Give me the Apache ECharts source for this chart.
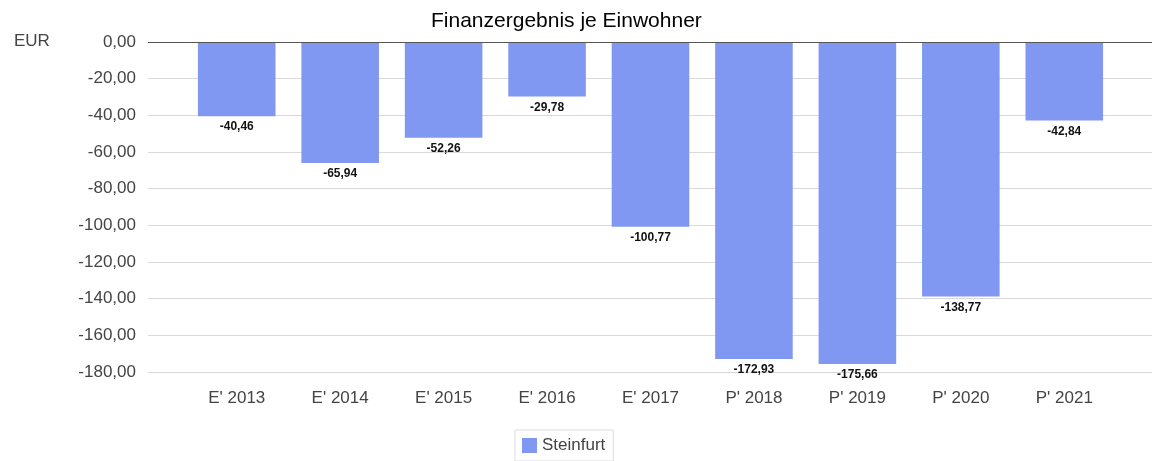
<!DOCTYPE html>
<html><head><meta charset="utf-8">
<script src="https://cdn.jsdelivr.net/npm/echarts@6/dist/echarts.min.js"></script>
<style>html,body{margin:0;padding:0;background:#fff}#c{width:1152px;height:461px}</style>
</head><body><div id="c"></div>
<script>
const categories = ["E' 2013","E' 2014","E' 2015","E' 2016","E' 2017","P' 2018","P' 2019","P' 2020","P' 2021"];
const steinfurt = [-40.46,-65.94,-52.26,-29.78,-100.77,-172.93,-175.66,-138.77,-42.84];
const seriesName = 'Steinfurt';
const yMin = -180, yMax = 0, yStep = 20;
const fmt = v => v.toFixed(2).replace('.', ',');
const font = 'Liberation Sans, Arial, sans-serif';
const chart = echarts.init(document.getElementById('c'));
chart.setOption({
  animation: false,
  title: {text: 'Finanzergebnis je Einwohner', left: 426, top: 6,
    textStyle: {fontFamily: font, fontSize: 21, fontWeight: 'normal', color: '#000'}},
  legend: {bottom: 0, left: 515, itemWidth: 15, itemHeight: 15, icon: 'rect',
    borderColor: '#ddd', borderWidth: 1, padding: [7, 8, 7, 7], itemGap: 6,
    textStyle: {fontFamily: font, fontSize: 17, color: '#444'}},
  grid: [
    {left: 148, right: 0, top: 42, bottom: 89},
    {left: 185, right: 36, top: 42, bottom: 89}
  ],
  xAxis: [
    {type: 'category', gridIndex: 0, data: categories, show: false},
    {type: 'category', gridIndex: 1, data: categories, position: 'bottom',
      axisLine: {show: false}, axisTick: {show: false},
      axisLabel: {fontFamily: font, fontSize: 17, color: '#444', margin: 18}}
  ],
  yAxis: [
    {type: 'value', gridIndex: 0, min: yMin, max: yMax, interval: yStep,
      name: 'EUR', nameLocation: 'end', nameGap: -8,
      nameTextStyle: {fontFamily: font, fontSize: 17, color: '#444', align: 'left', padding: [0, 0, 0, -134]},
      axisLine: {show: false}, axisTick: {show: false},
      axisLabel: {fontFamily: font, fontSize: 17, color: '#444', margin: 12, formatter: v => fmt(v)},
      splitLine: {lineStyle: {color: '#d9d9d9', width: 1}}},
    {type: 'value', gridIndex: 1, min: yMin, max: yMax, interval: yStep, show: false,
      splitLine: {show: false}}
  ],
  series: [
    {type: 'line', xAxisIndex: 0, yAxisIndex: 0, data: [], silent: true,
      markLine: {silent: true, symbol: 'none', label: {show: false},
        lineStyle: {color: '#555', type: 'solid', width: 1}, data: [{yAxis: 0}]}},
    {name: seriesName, type: 'bar', xAxisIndex: 1, yAxisIndex: 1, data: steinfurt,
      barCategoryGap: '25%', itemStyle: {color: '#8198f3'},
      label: {show: true, position: 'bottom', distance: 5, formatter: p => fmt(p.value),
        fontFamily: font, fontSize: 12, fontWeight: 'bold', color: '#111'}}
  ]
});
</script></body></html>
